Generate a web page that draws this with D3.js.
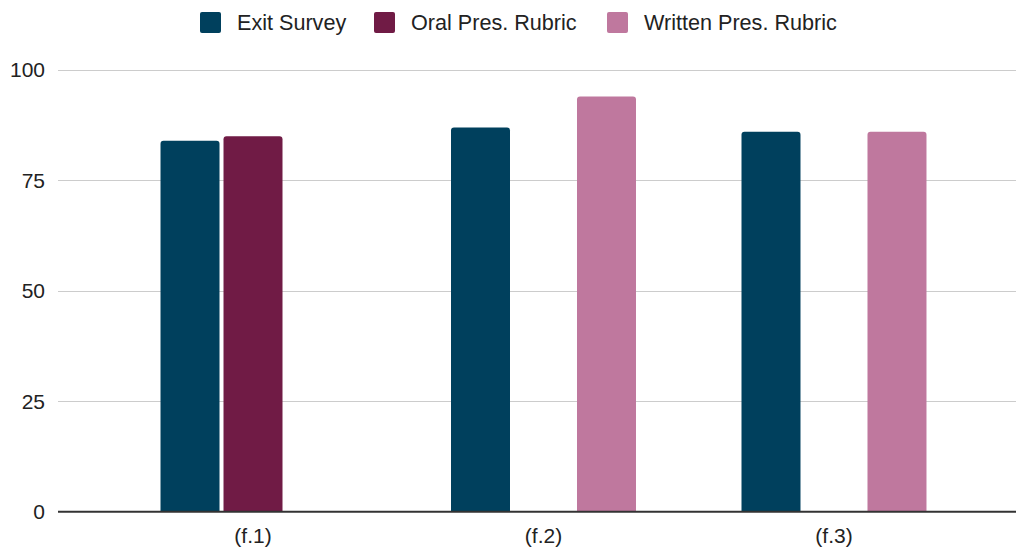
<!DOCTYPE html>
<html>
<head>
<meta charset="utf-8">
<script src="https://cdn.jsdelivr.net/npm/d3@7"></script>
<style>
  html, body { margin: 0; padding: 0; background: #fff; }
  svg { display: block; }
  text { font-family: "Liberation Sans", Arial, sans-serif; fill: #222; }
</style>
</head>
<body>
<svg id="chart" width="1016" height="550"></svg>
<script>
const categories = ["(f.1)", "(f.2)", "(f.3)"];
const seriesNames = ["Exit Survey", "Oral Pres. Rubric", "Written Pres. Rubric"];
const exitSurvey = [84, 87, 86];
const oralRubric = [85, null, null];
const writtenRubric = [null, 94, 86];
const yTicks = [0, 25, 50, 75, 100];
const colors = ["#00405d", "#701b45", "#bf789e"];

(function () {
const seriesValues = [exitSurvey, oralRubric, writtenRubric];

const svg = d3.select("#chart");
const W = 1016;
const plotLeft = 58, plotBottom = 511.7, plotTop = 70;

const y = d3.scaleLinear().domain([0, 100]).range([plotBottom, plotTop]);
const x0 = d3.scaleBand().domain(categories).range([plotLeft, 1029])
  .paddingInner(0.3632).paddingOuter(0.3529);
const x1 = d3.scaleBand().domain(seriesNames).range([0, x0.bandwidth()])
  .paddingInner(4 / 63).paddingOuter(0);

// gridlines
svg.append("g").selectAll("line").data(yTicks.filter(d => d !== 0)).join("line")
  .attr("x1", plotLeft).attr("x2", W)
  .attr("y1", d => Math.round(y(d)) + 0.5).attr("y2", d => Math.round(y(d)) + 0.5)
  .attr("stroke", "#cccccc").attr("stroke-width", 1);

// y labels
svg.append("g").selectAll("text").data(yTicks).join("text")
  .attr("x", 45).attr("y", d => y(d))
  .attr("dy", "0.35em")
  .attr("text-anchor", "end")
  .attr("font-size", 21)
  .text(d => d);

function barPath(x, yTop, w, yBase, r) {
  r = Math.min(r, w / 2, yBase - yTop);
  return `M${x},${yBase}V${yTop + r}Q${x},${yTop} ${x + r},${yTop}H${x + w - r}Q${x + w},${yTop} ${x + w},${yTop + r}V${yBase}Z`;
}

const barData = [];
categories.forEach((c, i) => {
  seriesNames.forEach((s, j) => {
    const v = seriesValues[j][i];
    if (v != null) barData.push({ c, s, v, j });
  });
});

svg.append("g").selectAll("path").data(barData).join("path")
  .attr("d", d => barPath(x0(d.c) + x1(d.s), y(d.v), x1.bandwidth(), y(0), 3))
  .attr("fill", d => colors[d.j]);

// axis line
svg.append("line")
  .attr("x1", plotLeft).attr("x2", W)
  .attr("y1", plotBottom).attr("y2", plotBottom)
  .attr("stroke", "#333").attr("stroke-width", 2);

// x labels
svg.append("g").selectAll("text").data(categories).join("text")
  .attr("x", d => x0(d) + x0.bandwidth() / 2)
  .attr("y", 543)
  .attr("text-anchor", "middle")
  .attr("font-size", 21)
  .text(d => d);

// legend
const legendX = [200, 374, 607];
const lg = svg.append("g").selectAll("g").data(seriesNames).join("g")
  .attr("transform", (d, i) => `translate(${legendX[i]},12)`);
lg.append("rect").attr("width", 21).attr("height", 21).attr("rx", 2)
  .attr("fill", (d, i) => colors[i]);
lg.append("text").attr("x", 37).attr("y", 18)
  .attr("font-size", 21.6).text(d => d);
})();
</script>
</body>
</html>
